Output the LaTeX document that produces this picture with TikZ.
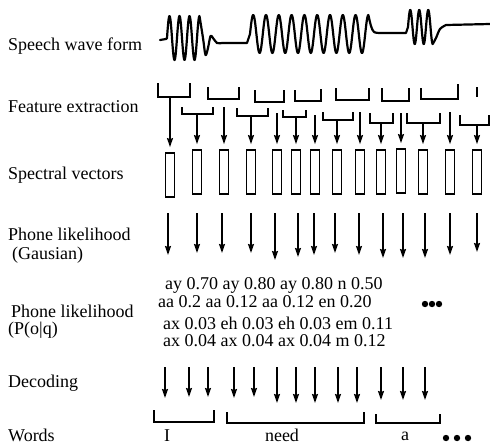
\documentclass[tikz,border=0pt]{standalone}
\usepackage{fontspec}
\setmainfont{Liberation Serif}
\usetikzlibrary{arrows.meta}
\tikzset{
  lbl/.style={anchor=base west,inner sep=0pt},
  word/.style={anchor=base,inner sep=0pt},
  brk/.style={line width=1.8pt},
  arr/.style={line width=1.5pt,-{Stealth[length=9pt,width=6pt,inset=1pt]}},
  vec/.style={draw,line width=1.8pt,minimum width=9pt,minimum height=44pt,inner sep=0pt},
  wave/.style={line width=2.2pt,line join=round,line cap=round}
}
\begin{document}
\begin{tikzpicture}[x=1pt,y=-1pt,font=\fontsize{18}{21}\selectfont]
\useasboundingbox (0,0) rectangle (490,445);
\node[lbl] (speech) at (8,50) {Speech wave form};
\node[lbl] (feat) at (8,112) {Feature extraction};
\node[lbl] (spec) at (8,179) {Spectral vectors};
\node[lbl] (gauss) at (8,240) {Phone likelihood};
\node[lbl] (gaussb) at (12,259) {(Gausian)};
\node[lbl] (plik) at (11,317) {Phone likelihood};
\node[lbl] (plikb) at (8,334) {(P(o|q)};
\node[lbl] (dec) at (8,387) {Decoding};
\node[lbl] (words) at (8,441) {Words};
\draw[wave] (160,40) -- (166,39)
  -- plot[domain=0:3.25,samples=100,smooth] ({167+10*\x},{38-22*sin(360*\x)})
  -- plot[smooth] coordinates {(199.5,16) (203,38) (205.5,55) (208,48) (210.5,36) (213,38) (217,43) (222,43)}
  -- (247,43)
  -- plot[domain=0:9.25,samples=300,smooth] ({250+12.8*\x},{34-19*sin(360*\x)})
  -- plot[smooth] coordinates {(368.4,15) (371,26) (374,32) (380,33)}
  -- (406,33)
  -- plot[domain=0:2.75,samples=100,smooth] ({408+9*\x},{27-17*sin(360*\x)})
  -- plot[smooth] coordinates {(432.75,44) (436,38) (440,29) (446,25)}
  -- (490,24);
\foreach \x/\yc [count=\i] in {170/175,197/172,224/172,251/172,277/172,296/172,315/172,337/172,360/172,381/172,401/171,423/172,450/172,477/172}
  \node[vec] (v\i) at (\x,\yc) {};
\foreach \a/\t/\u/\b/\r in {158/83/97/190/83,208/87/99/239/87,255/90/102/284/90,295/90/101/321/89,336/88/100/369/88,382/88/101/409/88,421/88/99/458/84}
  \draw[brk] (\a,\t) -- (\a,\u) -- (\b,\u) -- (\b,\r);
\draw[brk] (477,87) -- (477,97);
\foreach \a/\t/\u/\b in {182/107/114/213,237/108/116/268,283/110/117/306,323/112/120/353,370/113/123/393,407/113/123/440,460/115/125/489}
  \draw[brk] (\a,\t) -- (\a,\u) -- (\b,\u) -- (\b,\t);
\foreach \x/\s [count=\i] in {170/97,197/114,224/107,251/116,277/113,296/117,315/115,337/120,360/112,381/123,401/113,423/123,450/112,477/125}{
  \coordinate (f\i) at (\x,\s);
  \draw[arr,shorten >=5pt] (f\i) -- (v\i);
}
\foreach \x/\e in {168/255,197/253,222/253,251/253,275/260,298/257,314/255,335/253,359/255,383/258,403/258,425/258,450/255,477/252}
  \draw[arr] (\x,213) -- (\x,\e);
\node[lbl] (p1) at (165,289.5) {ay 0.70 ay 0.80 ay 0.80 n 0.50};
\node[lbl] (p2) at (158,307) {aa 0.2 aa 0.12 aa 0.12 en 0.20};
\node[lbl] (p3) at (163,329) {ax 0.03 eh 0.03 eh 0.03 em 0.11};
\node[lbl] (p4) at (163,346) {ax 0.04 ax 0.04 ax 0.04 m 0.12};
\foreach \x in {425,432,439} \fill (\x,304) circle (3.2pt);
\foreach \x/\e in {165/398,189/397,208/397,234/398,254/397,277/403,296/403,315/403,338/403,357/403,381/400,403/400,425/400}
  \draw[arr] (\x,367) -- (\x,\e);
\foreach \a/\t/\u/\b in {154/410/422/214,227/412/423/364,376/414/423/440}
  \draw[brk] (\a,\t) -- (\a,\u) -- (\b,\u) -- (\b,\t);
\node[word] (wi) at (167,441) {I};
\node[word] (wneed) at (282,441) {need};
\node[word] (wa) at (405,440) {a};
\foreach \x in {446,457,468} \fill (\x,438) circle (3.2pt);
\end{tikzpicture}
\end{document}
